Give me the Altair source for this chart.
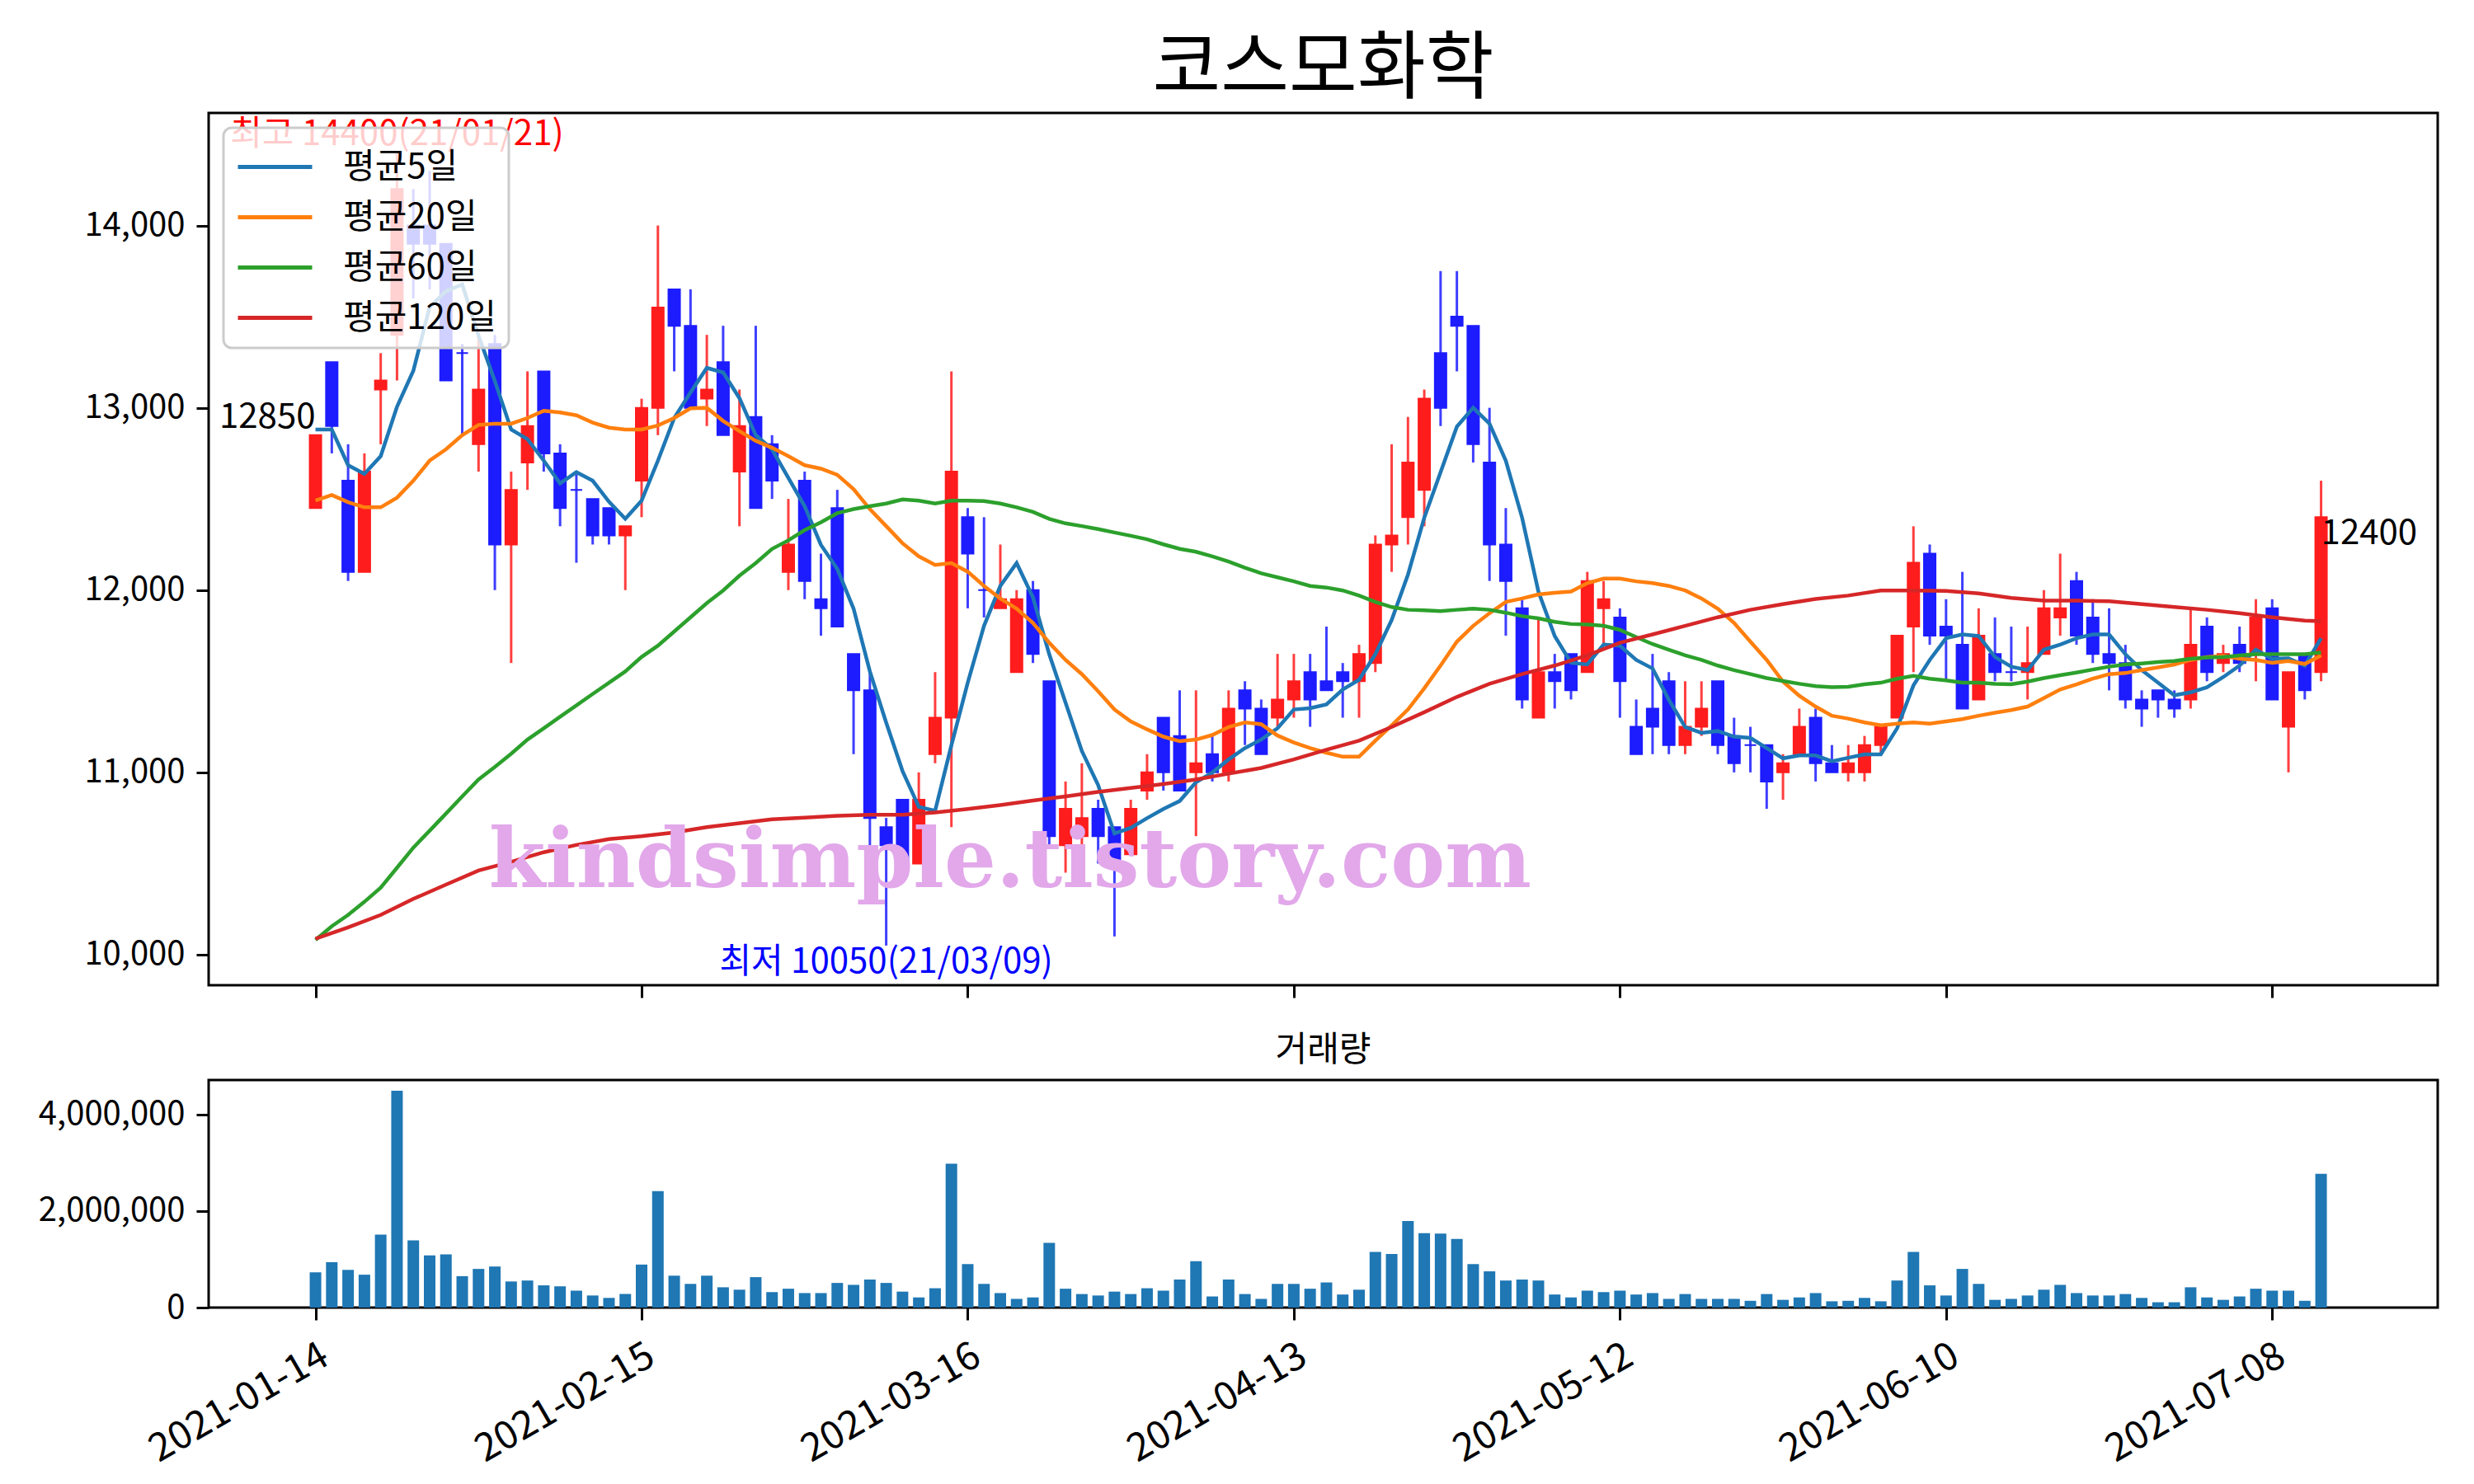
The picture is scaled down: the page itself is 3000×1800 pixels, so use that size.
import pandas as pd
import altair as alt

FONT = "Noto Sans CJK KR"
RED = "#ff1c1c"
BLUE = "#1c1cff"

# daily OHLC (trading-day index 0..123)
opens = [12450, 13250, 12600, 12100, 13100, 13400, 14000, 14000, 13900, 13300,
         12800, 13350, 12250, 12700, 13200, 12750, 12550, 12500, 12450, 12300,
         12600, 13000, 13650, 13450, 13050, 13250, 12650, 12950, 12800, 12100,
         12600, 11950, 12450, 11650, 11450, 10700, 10850, 10500, 11100, 11300,
         12400, 12000, 11900, 11550, 12000, 11500, 10600, 10650, 10800, 10700,
         10550, 10900, 11300, 11200, 11000, 11100, 11000, 11450, 11350, 11300,
         11400, 11550, 11500, 11550, 11500, 11600, 12250, 12400, 12550, 13300,
         13500, 13450, 12700, 12250, 11900, 11300, 11550, 11650, 11550, 11900,
         11850, 11250, 11350, 11500, 11150, 11250, 11500, 11200, 11150, 11150,
         11000, 11100, 11300, 11050, 11000, 11000, 11150, 11300, 11800, 12200,
         11800, 11700, 11400, 11650, 11550, 11550, 11650, 11850, 12050, 11850,
         11650, 11600, 11400, 11450, 11400, 11400, 11800, 11600, 11700, 11650,
         11900, 11250, 11650, 11550]
highs = [12850, 13250, 12800, 12750, 13300, 14400, 14200, 14300, 13900, 13350,
         13400, 13400, 12650, 13200, 13200, 12800, 12650, 12500, 12450, 12350,
         13050, 14000, 13650, 13650, 13400, 13450, 13100, 13450, 12850, 12500,
         12650, 12200, 12550, 11650, 11550, 10750, 10850, 11000, 11550, 13200,
         12450, 12400, 12250, 12000, 12050, 11500, 10950, 11050, 10850, 10700,
         10850, 11100, 11300, 11450, 11450, 11200, 11450, 11500, 11400, 11650,
         11650, 11650, 11800, 11600, 11700, 12300, 12800, 12950, 13100, 13750,
         13750, 13450, 13000, 12450, 11950, 11850, 11650, 11650, 12100, 12050,
         11900, 11400, 11650, 11550, 11500, 11500, 11500, 11300, 11250, 11150,
         11100, 11350, 11350, 11150, 11150, 11200, 11250, 11750, 12350, 12250,
         11950, 12100, 11900, 11850, 11800, 11800, 12000, 12200, 12100, 11950,
         11900, 11700, 11450, 11450, 11450, 11900, 11850, 11700, 11800, 11950,
         11950, 11550, 11650, 12600]
lows = [12450, 12750, 12050, 12100, 12800, 13150, 13600, 13650, 13150, 12850,
        12650, 12000, 11600, 12550, 12650, 12350, 12150, 12250, 12250, 12000,
        12400, 12850, 13200, 13000, 12900, 12850, 12350, 12450, 12500, 12000,
        11950, 11750, 11800, 11100, 10600, 10050, 10500, 10500, 11050, 10700,
        11900, 11850, 11900, 11550, 11600, 10600, 10450, 10600, 10500, 10100,
        10550, 10850, 10900, 10900, 10650, 10950, 10950, 11150, 11100, 11250,
        11300, 11250, 11450, 11300, 11300, 11550, 12100, 12250, 12350, 12900,
        13200, 12700, 12050, 11750, 11350, 11300, 11350, 11400, 11550, 11700,
        11300, 11100, 11100, 11100, 11100, 11200, 11100, 11000, 11000, 10800,
        10850, 11100, 10950, 11000, 10950, 10950, 11100, 11300, 11550, 11700,
        11500, 11350, 11400, 11500, 11500, 11400, 11650, 11750, 11700, 11600,
        11450, 11350, 11250, 11300, 11300, 11350, 11500, 11550, 11550, 11500,
        11400, 11000, 11400, 11500]
closes = [12850, 12900, 12100, 12650, 13150, 14200, 13900, 13900, 13150, 13300,
          13100, 12250, 12550, 12900, 12750, 12450, 12550, 12300, 12300, 12350,
          13000, 13550, 13450, 13000, 13100, 12850, 12900, 12450, 12600, 12250,
          12050, 11900, 11800, 11450, 10750, 10600, 10500, 10850, 11300, 12650,
          12200, 12000, 11950, 11950, 11650, 10650, 10800, 10750, 10650, 10500,
          10800, 11000, 11000, 10900, 11050, 11000, 11350, 11350, 11100, 11400,
          11500, 11400, 11450, 11500, 11650, 12250, 12300, 12700, 13050, 13000,
          13450, 12800, 12250, 12050, 11400, 11550, 11500, 11450, 12050, 11950,
          11500, 11100, 11250, 11150, 11250, 11350, 11150, 11050, 11150, 10950,
          11050, 11250, 11050, 11000, 11050, 11150, 11250, 11750, 12150, 11750,
          11750, 11350, 11750, 11550, 11550, 11600, 11900, 11900, 11750, 11650,
          11600, 11400, 11350, 11400, 11350, 11700, 11550, 11650, 11600, 11850,
          11400, 11550, 11450, 12400]
volumes = [730000, 940000, 780000, 680000, 1510000, 4490000, 1390000, 1080000, 1100000, 650000,
           800000, 850000, 540000, 560000, 460000, 440000, 350000, 250000, 200000, 280000,
           890000, 2410000, 660000, 490000, 660000, 420000, 370000, 630000, 320000, 390000,
           300000, 300000, 510000, 470000, 580000, 510000, 330000, 210000, 400000, 2980000,
           900000, 490000, 300000, 180000, 210000, 1340000, 390000, 280000, 250000, 330000,
           280000, 400000, 350000, 580000, 960000, 230000, 580000, 280000, 180000, 490000,
           490000, 390000, 520000, 270000, 370000, 1150000, 1110000, 1790000, 1540000, 1530000,
           1420000, 900000, 750000, 560000, 580000, 560000, 270000, 210000, 350000, 320000,
           350000, 270000, 300000, 180000, 280000, 180000, 180000, 180000, 140000, 280000,
           160000, 210000, 300000, 130000, 140000, 200000, 130000, 560000, 1150000, 460000,
           250000, 800000, 490000, 160000, 180000, 250000, 370000, 470000, 300000, 250000,
           250000, 280000, 200000, 110000, 110000, 420000, 210000, 160000, 230000, 390000,
           350000, 350000, 140000, 2770000]

# moving averages as drawn
ma5 = [12881, 12881, 12685, 12638, 12735, 13006, 13203, 13553, 13640, 13677,
       13396, 13147, 12881, 12828, 12710, 12585, 12647, 12600, 12485, 12391,
       12491, 12710, 12944, 13084, 13219, 13194, 13053, 12850, 12772, 12616,
       12460, 12248, 12116, 11898, 11554, 11273, 11008, 10811, 10789, 11149,
       11492, 11804, 12023, 12148, 11960, 11648, 11383, 11117, 10930, 10665,
       10696, 10749, 10799, 10843, 10946, 10999, 11071, 11133, 11180, 11242,
       11345, 11352, 11373, 11455, 11508, 11648, 11836, 12085, 12397, 12647,
       12897, 13000, 12913, 12710, 12397, 11992, 11748, 11601, 11592, 11701,
       11695, 11617, 11570, 11398, 11249, 11217, 11227, 11196, 11189, 11133,
       11077, 11093, 11093, 11061, 11080, 11099, 11099, 11242, 11477, 11617,
       11736, 11757, 11748, 11633, 11580, 11561, 11673, 11701, 11736, 11757,
       11757, 11648, 11561, 11492, 11423, 11439, 11467, 11523, 11586, 11673,
       11623, 11626, 11586, 11736]
ma20 = [12491, 12522, 12482, 12454, 12454, 12507, 12600, 12710, 12772, 12850,
        12906, 12913, 12913, 12944, 12984, 12975, 12959, 12919, 12891, 12881,
        12881, 12903, 12944, 12997, 13000, 12928, 12872, 12819, 12781, 12735,
        12685, 12666, 12632, 12554, 12444, 12351, 12257, 12185, 12138, 12148,
        12101, 12023, 11954, 11898, 11820, 11711, 11617, 11539, 11445, 11345,
        11280, 11236, 11196, 11171, 11180, 11205, 11249, 11274, 11264, 11202,
        11164, 11133, 11108, 11086, 11086, 11174, 11258, 11345, 11461, 11586,
        11717, 11804, 11873, 11935, 11954, 11976, 11985, 11992, 12038, 12063,
        12063, 12048, 12038, 12023, 11998, 11954, 11898, 11820, 11717, 11617,
        11498, 11420, 11361, 11311, 11295, 11274, 11258, 11267, 11274, 11267,
        11280, 11292, 11311, 11327, 11342, 11361, 11408, 11455, 11483, 11514,
        11539, 11545, 11561, 11576, 11592, 11617, 11633, 11639, 11623, 11617,
        11601, 11611, 11595, 11642]
ma60 = [10081, 10156, 10218, 10290, 10368, 10477, 10587, 10680, 10774, 10868,
        10961, 11030, 11102, 11180, 11242, 11305, 11367, 11430, 11492, 11554,
        11633, 11695, 11773, 11851, 11929, 11998, 12079, 12148, 12226, 12273,
        12329, 12372, 12422, 12444, 12460, 12475, 12497, 12491, 12475, 12491,
        12491, 12488, 12475, 12454, 12429, 12391, 12366, 12351, 12335, 12316,
        12298, 12279, 12251, 12226, 12210, 12185, 12157, 12123, 12092, 12070,
        12048, 12023, 12014, 11998, 11970, 11935, 11907, 11892, 11889, 11885,
        11892, 11898, 11892, 11876, 11857, 11845, 11826, 11814, 11811, 11804,
        11782, 11742, 11704, 11673, 11642, 11617, 11586, 11561, 11539, 11517,
        11501, 11486, 11473, 11467, 11470, 11483, 11492, 11514, 11530, 11514,
        11505, 11492, 11492, 11486, 11483, 11498, 11517, 11533, 11548, 11564,
        11580, 11592, 11598, 11605, 11611, 11623, 11630, 11633, 11642, 11648,
        11648, 11648, 11648, 11658]
ma120_idx = [0, 2, 4, 6, 8, 10, 12, 14, 16, 18, 20, 22, 24, 26, 28, 30, 32, 34, 36, 38,
             40, 42, 44, 46, 48, 50, 52, 54, 56, 58, 60, 62, 64, 66, 68, 70, 72, 74, 76, 78,
             80, 82, 84, 86, 88, 90, 92, 94, 96, 98, 100, 102, 104, 106, 108, 110, 112, 114,
             116, 118, 120, 122, 123]
ma120 = [10087, 10150, 10218, 10306, 10384, 10462, 10509, 10562, 10602, 10634,
         10650, 10670, 10700, 10721, 10743, 10752, 10762, 10768, 10768, 10780,
         10799, 10821, 10846, 10868, 10893, 10915, 10936, 10961, 10993, 11024,
         11071, 11124, 11174, 11249, 11330, 11414, 11486, 11539, 11586, 11642,
         11711, 11757, 11804, 11851, 11892, 11923, 11951, 11970, 11998, 11998,
         11995, 11982, 11957, 11942, 11942, 11939, 11923, 11907, 11892, 11873,
         11851, 11833, 11829]

ma_names = ["평균5일", "평균20일", "평균60일", "평균120일"]
ma_colors = ["#1f77b4", "#ff7f0e", "#2ca02c", "#d62728"]

tick_idx = [0, 20, 40, 60, 80, 100, 120]
tick_dates = ["2021-01-14", "2021-02-15", "2021-03-16", "2021-04-13",
              "2021-05-12", "2021-06-10", "2021-07-08"]

idx = list(range(len(closes)))
candles = pd.DataFrame({"idx": idx, "open": opens, "high": highs, "low": lows,
                        "close": closes, "volume": volumes})

ma_df = pd.concat([
    pd.DataFrame({"idx": idx, "value": ma5, "series": ma_names[0]}),
    pd.DataFrame({"idx": idx, "value": ma20, "series": ma_names[1]}),
    pd.DataFrame({"idx": idx, "value": ma60, "series": ma_names[2]}),
    pd.DataFrame({"idx": ma120_idx, "value": ma120, "series": ma_names[3]}),
])

x_scale = alt.Scale(domain=[-6.3, 129.9], nice=False, zero=False)
y_scale = alt.Scale(domain=[9832.5, 14617.5], nice=False, zero=False)

x_axis_main = alt.Axis(values=tick_idx, labels=False, title=None)
label_expr = "[" + ",".join("'%s'" % d for d in tick_dates) + "][datum.value / 20]"
x_axis_vol = alt.Axis(values=tick_idx, labelExpr=label_expr, labelAngle=-30,
                      labelAlign="right", labelBaseline="top", labelFontSize=47,
                      labelPadding=20, title=None)
y_axis_main = alt.Axis(values=[10000, 11000, 12000, 13000, 14000], format=",d", title=None)

up = "datum.close > datum.open"
candle_color = alt.condition(up, alt.value(RED), alt.value(BLUE))

base = alt.Chart(candles)
wicks = base.mark_rule(strokeWidth=3, opacity=0.85).encode(
    x=alt.X("idx:Q", scale=x_scale, axis=x_axis_main),
    y=alt.Y("low:Q", scale=y_scale, axis=y_axis_main),
    y2="high:Q",
    color=candle_color,
)
bodies = base.mark_bar(size=14, strokeWidth=2).encode(
    x=alt.X("idx:Q", scale=x_scale),
    y=alt.Y("open:Q", scale=y_scale),
    y2="close:Q",
    color=candle_color,
    stroke=candle_color,
)

lines = alt.Chart(ma_df).mark_line(strokeWidth=4.5).encode(
    x=alt.X("idx:Q", scale=x_scale),
    y=alt.Y("value:Q", scale=y_scale),
    color=alt.Color("series:N", scale=alt.Scale(domain=ma_names, range=ma_colors),
                    sort=ma_names, legend=alt.Legend(title=None)),
)


def note(xs, ys, label, color, align, baseline):
    df = pd.DataFrame({"idx": xs, "value": ys, "label": label})
    return alt.Chart(df).mark_text(align=align, baseline=baseline, font=FONT,
                                   fontSize=42, color=color).encode(
        x=alt.X("idx:Q", scale=x_scale),
        y=alt.Y("value:Q", scale=y_scale),
        text="label:N",
    )


hi_note = note([5], [14400], ["최고 14400(21/01/21)"], "#ff0000", "center", "bottom")
lo_note = note([35], [10050], ["최저 10050(21/03/09)"], "#0000ff", "center", "top")
first_note = note([0], [12850], ["12850"], "black", "right", "bottom")
last_note = note([123], [12400], ["12400"], "black", "left", "top")

wm_df = pd.DataFrame({"idx": [42.6], "value": [10370], "label": ["kindsimple.tistory.com"]})
watermark = alt.Chart(wm_df).mark_text(
    align="center", baseline="alphabetic", font="DejaVu Serif", fontWeight="bold",
    fontSize=99, color="#e2a8ea",
).encode(
    x=alt.X("idx:Q", scale=x_scale),
    y=alt.Y("value:Q", scale=y_scale),
    text="label:N",
)

main = alt.layer(wicks, bodies, lines, hi_note, lo_note, first_note, last_note, watermark).properties(
    width=2703, height=1058,
    title=alt.TitleParams("코스모화학", fontSize=90, font=FONT, fontWeight="normal",
                          anchor="middle", frame="group", offset=6, color="black"),
)

vol = alt.Chart(candles).mark_bar(size=14, color="#1f77b4").encode(
    x=alt.X("idx:Q", scale=x_scale, axis=x_axis_vol),
    y=alt.Y("volume:Q", scale=alt.Scale(domain=[0, 4710000], nice=False),
            axis=alt.Axis(values=[0, 2000000, 4000000], format=",d", title=None)),
).properties(
    width=2703, height=276,
    title=alt.TitleParams("거래량", fontSize=42, font=FONT, fontWeight="normal",
                          anchor="middle", frame="group", offset=14, color="black"),
)

chart = alt.vconcat(main, vol, spacing=38).properties(
    padding={"left": 36, "top": 30, "right": 10, "bottom": 10},
).configure_view(
    stroke="black", strokeWidth=3,
).configure_axis(
    labelFont=FONT, labelFontSize=40, labelColor="black", labelPadding=14, labelLimit=0,
    tickColor="black", tickWidth=3, tickSize=15, domain=False, grid=False,
).configure_legend(
    orient="top-left", offset=18, padding=15, fillColor="rgba(255,255,255,0.8)",
    strokeColor="#cccccc", strokeWidth=3, cornerRadius=10, labelLimit=0,
    labelFont=FONT, labelFontSize=42, labelColor="black", labelOffset=50,
    symbolType="M-1.5,0H1.5", symbolSize=3600, symbolOffset=15,
    symbolStrokeWidth=5, rowPadding=7,
)

chart.save("out.html", embed_options={"renderer": "svg", "actions": False})
